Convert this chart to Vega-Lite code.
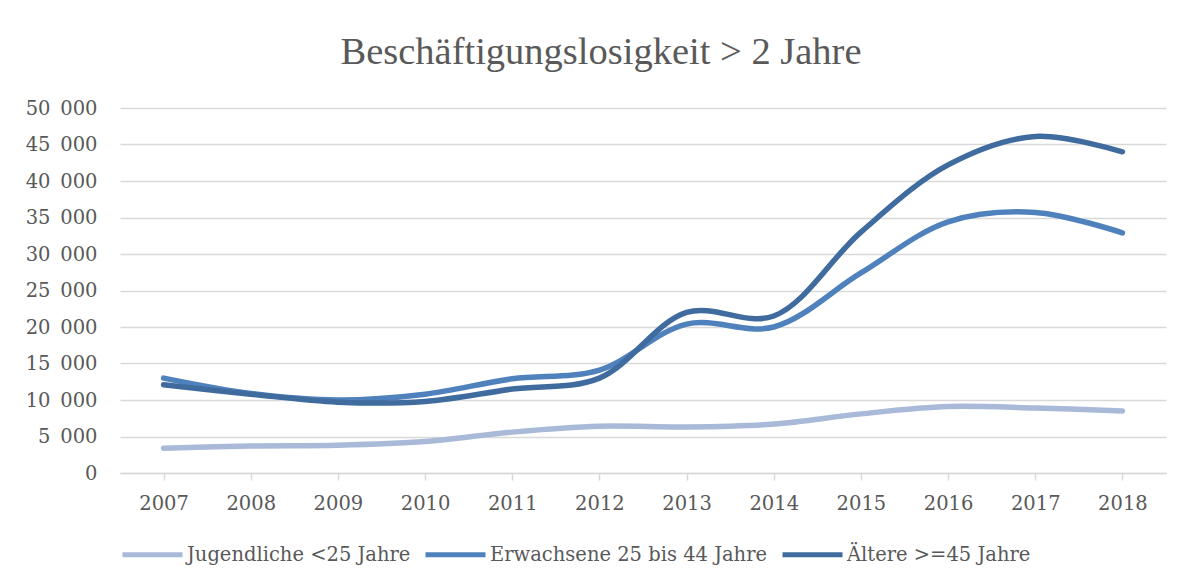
{
  "$schema": "https://vega.github.io/schema/vega-lite/v6.json",
  "autosize": {"type": "none"},
  "width": 1046,
  "height": 365,
  "padding": {"left": 120, "top": 108, "right": 26, "bottom": 112},
  "background": "white",
  "title": {
    "text": "Beschäftigungslosigkeit > 2 Jahre",
    "font": "Liberation Serif",
    "fontSize": 38.5,
    "fontWeight": "normal",
    "color": "#595959",
    "anchor": "middle",
    "baseline": "alphabetic",
    "offset": -4,
    "dx": -42
  },
  "data": {
    "values": [
      {"year": "2007", "group": "Jugendliche <25 Jahre", "value": 3400},
      {"year": "2008", "group": "Jugendliche <25 Jahre", "value": 3700},
      {"year": "2009", "group": "Jugendliche <25 Jahre", "value": 3800},
      {"year": "2010", "group": "Jugendliche <25 Jahre", "value": 4300},
      {"year": "2011", "group": "Jugendliche <25 Jahre", "value": 5600},
      {"year": "2012", "group": "Jugendliche <25 Jahre", "value": 6400},
      {"year": "2013", "group": "Jugendliche <25 Jahre", "value": 6300},
      {"year": "2014", "group": "Jugendliche <25 Jahre", "value": 6700},
      {"year": "2015", "group": "Jugendliche <25 Jahre", "value": 8100},
      {"year": "2016", "group": "Jugendliche <25 Jahre", "value": 9100},
      {"year": "2017", "group": "Jugendliche <25 Jahre", "value": 8900},
      {"year": "2018", "group": "Jugendliche <25 Jahre", "value": 8500},
      {"year": "2007", "group": "Erwachsene 25 bis 44 Jahre", "value": 13000},
      {"year": "2008", "group": "Erwachsene 25 bis 44 Jahre", "value": 10900},
      {"year": "2009", "group": "Erwachsene 25 bis 44 Jahre", "value": 10000},
      {"year": "2010", "group": "Erwachsene 25 bis 44 Jahre", "value": 10800},
      {"year": "2011", "group": "Erwachsene 25 bis 44 Jahre", "value": 12900},
      {"year": "2012", "group": "Erwachsene 25 bis 44 Jahre", "value": 14100},
      {"year": "2013", "group": "Erwachsene 25 bis 44 Jahre", "value": 20400},
      {"year": "2014", "group": "Erwachsene 25 bis 44 Jahre", "value": 20000},
      {"year": "2015", "group": "Erwachsene 25 bis 44 Jahre", "value": 27400},
      {"year": "2016", "group": "Erwachsene 25 bis 44 Jahre", "value": 34400},
      {"year": "2017", "group": "Erwachsene 25 bis 44 Jahre", "value": 35700},
      {"year": "2018", "group": "Erwachsene 25 bis 44 Jahre", "value": 32900},
      {"year": "2007", "group": "Ältere >=45 Jahre", "value": 12100},
      {"year": "2008", "group": "Ältere >=45 Jahre", "value": 10800},
      {"year": "2009", "group": "Ältere >=45 Jahre", "value": 9700},
      {"year": "2010", "group": "Ältere >=45 Jahre", "value": 9800},
      {"year": "2011", "group": "Ältere >=45 Jahre", "value": 11500},
      {"year": "2012", "group": "Ältere >=45 Jahre", "value": 13000},
      {"year": "2013", "group": "Ältere >=45 Jahre", "value": 22000},
      {"year": "2014", "group": "Ältere >=45 Jahre", "value": 21500},
      {"year": "2015", "group": "Ältere >=45 Jahre", "value": 33000},
      {"year": "2016", "group": "Ältere >=45 Jahre", "value": 42200},
      {"year": "2017", "group": "Ältere >=45 Jahre", "value": 46100},
      {"year": "2018", "group": "Ältere >=45 Jahre", "value": 44000}
    ]
  },
  "mark": {"type": "line", "interpolate": "catmull-rom", "strokeWidth": 5.5, "strokeCap": "round"},
  "encoding": {
    "x": {
      "field": "year",
      "type": "ordinal",
      "scale": {"paddingInner": 0, "paddingOuter": 0},
      "axis": {
        "title": null,
        "labelAngle": 0,
        "bandPosition": 0,
        "grid": false,
        "domainColor": "#D9D9D9",
        "domainWidth": 1.5,
        "tickColor": "#D9D9D9",
        "tickWidth": 1.5,
        "tickSize": 7,
        "labelPadding": 14,
        "labelFont": "DejaVu Serif",
        "labelFontSize": 19.5,
        "labelColor": "#595959"
      }
    },
    "y": {
      "field": "value",
      "type": "quantitative",
      "scale": {"domain": [0, 50000]},
      "axis": {
        "title": null,
        "values": [0, 5000, 10000, 15000, 20000, 25000, 30000, 35000, 40000, 45000, 50000],
        "labelExpr": "replace(format(datum.value, ','), ',', '\u2002')",
        "domain": false,
        "ticks": false,
        "gridColor": "#D9D9D9",
        "gridWidth": 1.5,
        "labelPadding": 23,
        "labelFont": "DejaVu Serif",
        "labelFontSize": 19.5,
        "labelColor": "#595959"
      }
    },
    "color": {
      "field": "group",
      "type": "nominal",
      "sort": null,
      "scale": {
        "domain": ["Jugendliche <25 Jahre", "Erwachsene 25 bis 44 Jahre", "Ältere >=45 Jahre"],
        "range": ["#A9B9D8", "#4F81BD", "#3F6B9E"]
      },
      "legend": {
        "title": null,
        "orient": "bottom",
        "direction": "horizontal",
        "offset": 9,
        "symbolType": "stroke",
        "symbolSize": 3600,
        "symbolStrokeWidth": 5,
        "labelFont": "DejaVu Serif",
        "labelFontSize": 19.5,
        "labelColor": "#595959",
        "labelOffset": 2,
        "labelLimit": 500,
        "columnPadding": 4
      }
    }
  },
  "config": {"view": {"stroke": null}}
}
